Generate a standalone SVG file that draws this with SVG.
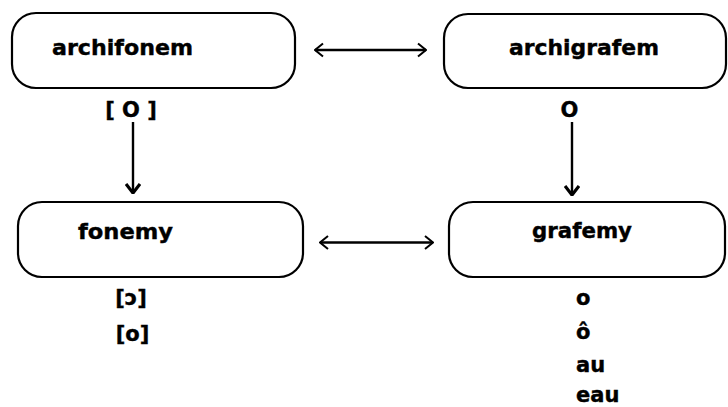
<svg xmlns="http://www.w3.org/2000/svg" width="728" height="407" viewBox="0 0 728 407">
<defs>
<style>
.box{fill:#fff;stroke:#000;stroke-width:2.2}
.t{font-family:"DejaVu Sans","Liberation Sans",sans-serif;font-weight:bold;font-size:21px;fill:#000;stroke:#000;stroke-width:0.4}
.c{text-anchor:middle}
.ln{stroke:#000;stroke-width:2.6;fill:none}
.lv{stroke:#000;stroke-width:2.4;fill:none}
</style>
<marker id="open" viewBox="0 0 10 16" refX="9" refY="8" markerWidth="10" markerHeight="16" markerUnits="userSpaceOnUse" orient="auto-start-reverse">
<path d="M1,1.5 L9,8 L1,14.5" fill="none" stroke="#000" stroke-width="2"/>
</marker>
<marker id="down" viewBox="0 0 16 12" refX="8" refY="11" markerWidth="16" markerHeight="12" markerUnits="userSpaceOnUse" orient="0">
<path d="M1,2 L8,11 L15,2" fill="none" stroke="#000" stroke-width="3.2"/>
</marker>
</defs>
<rect width="728" height="407" fill="#fff"/>
<g id="archifonem">
<rect class="box" x="12" y="13" width="283" height="75" rx="24" ry="24"/>
<text class="t c" x="122.5" y="55" textLength="141" lengthAdjust="spacingAndGlyphs">archifonem</text>
<text class="t c" x="131" y="117">[ O ]</text>
</g>
<g id="archigrafem">
<rect class="box" x="444" y="14" width="282" height="74" rx="24" ry="24"/>
<text class="t c" x="584" y="55" textLength="150" lengthAdjust="spacingAndGlyphs">archigrafem</text>
<text class="t c" x="569.5" y="117">O</text>
</g>
<g id="fonemy">
<rect class="box" x="18" y="202" width="285" height="75" rx="24" ry="24"/>
<text class="t c" x="125.5" y="239" textLength="95" lengthAdjust="spacingAndGlyphs">fonemy</text>
<text class="t c" x="131" y="305">[ɔ]</text>
<text class="t c" x="132.5" y="341">[o]</text>
</g>
<g id="grafemy">
<rect class="box" x="449" y="202" width="276" height="75" rx="24" ry="24"/>
<text class="t c" x="582" y="238" textLength="100" lengthAdjust="spacingAndGlyphs">grafemy</text>
<text class="t" x="576" y="305">o</text>
<text class="t" x="576" y="339">ô</text>
<text class="t" x="576" y="372">au</text>
<text class="t" x="576" y="402">eau</text>
</g>
<g id="connectors">
<line class="ln" x1="315" y1="50" x2="426" y2="50" marker-start="url(#open)" marker-end="url(#open)"/>
<line class="ln" x1="320" y1="242.5" x2="433" y2="242.5" marker-start="url(#open)" marker-end="url(#open)"/>
<line class="lv" x1="133" y1="122" x2="133" y2="193" marker-end="url(#down)"/>
<line class="lv" x1="572" y1="122" x2="572" y2="195" marker-end="url(#down)"/>
</g>
</svg>
